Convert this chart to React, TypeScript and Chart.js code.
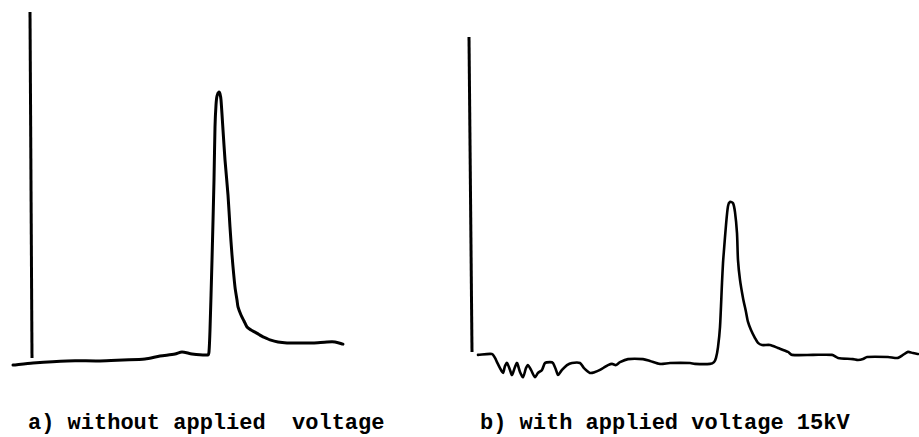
import React, { useEffect, useRef } from "react";
import { Chart, registerables } from "chart.js";

Chart.register(...registerables);

// ---- Panel a) without applied voltage ----
const aMarkerTime = [-0.2, 0.0];
const aMarkerSignal = [117.0, 1.7];
const aTime = [
  -1.9, 0.1, 3.5, 6.8, 9.1, 11.3, 12.8, 14.3, 15.0, 16.0, 17.6, 17.7, 17.8, 18.0, 18.2, 18.3, 18.4, 18.5,
  18.7, 18.8, 18.9, 19.1, 19.3, 19.6, 19.8, 20.0, 20.3, 20.5, 20.6, 20.9, 21.2, 21.5, 21.9, 22.3, 22.6,
  22.8, 23.1, 23.4, 23.8, 24.6, 25.5, 26.8, 28.1, 29.5, 30.3, 31.1,
];
const aSignal = [
  -0.7, 0.0, 0.7, 0.7, 1.0, 1.3, 2.3, 3.0, 3.7, 3.0, 2.7, 3.7, 11.0, 34.3, 61.0, 78.7, 86.0, 89.0,
  90.3, 89.7, 87.7, 77.7, 67.7, 56.0, 45.3, 36.0, 25.3, 21.0, 18.7, 16.0, 14.0, 12.0, 11.0, 10.3, 9.7,
  9.3, 8.7, 8.3, 7.7, 7.0, 6.7, 6.7, 6.7, 7.0, 7.0, 6.3,
];

// ---- Panel b) with applied voltage 15kV ----
const bMarkerTime = [-0.2, 0.1];
const bMarkerSignal = [108.7, 3.7];
const bTime = [
  0.7, 2.1, 2.4, 2.6, 2.9, 3.2, 3.4, 3.6, 3.9, 4.1, 4.4, 4.6, 4.9, 5.2, 5.5, 5.7, 6.0, 6.4, 6.7, 7.1,
  7.4, 7.9, 8.2, 8.5, 8.7, 9.1, 9.6, 10.1, 10.9, 11.3, 11.9, 12.4, 12.9, 13.4, 13.7, 14.1, 14.5, 14.9,
  15.7, 17.2, 17.9, 18.9, 19.9, 21.9, 22.4, 23.9, 24.3, 24.5, 24.7, 24.9, 25.1, 25.2, 25.3, 25.5, 25.7,
  25.9, 26.2, 26.4, 26.6, 26.7, 26.9, 27.2, 27.5, 27.7, 28.0, 28.4, 28.7, 29.1, 29.9, 30.7, 31.7, 32.1,
  34.2, 36.1, 36.7, 38.2, 38.7, 39.2, 39.6, 41.7, 42.7, 43.2, 43.7, 44.2, 44.7,
];
const bSignal = [
  2.7, 3.0, 1.7, 0.3, -1.7, -3.3, -1.0, 0.0, -2.3, -4.0, -1.3, 0.0, -3.0, -4.7, -1.7, -0.7, -2.3, -4.7,
  -3.3, -2.3, 0.0, 0.3, 0.0, -2.3, -4.0, -2.3, -0.7, 0.0, 0.0, -1.7, -3.3, -3.0, -2.3, -1.3, -0.7, -0.3,
  -0.7, 0.3, 1.3, 1.3, 0.7, -0.3, 0.0, 0.0, -0.3, -0.3, 0.3, 1.7, 5.3, 12.0, 26.7, 33.3, 37.7, 46.0,
  52.3, 53.7, 53.3, 50.3, 43.3, 34.3, 27.7, 21.7, 17.0, 13.7, 11.0, 8.3, 6.7, 6.0, 6.0, 5.0, 3.7, 2.7,
  2.7, 2.7, 1.7, 1.3, 1.0, 1.3, 2.0, 2.0, 1.7, 2.7, 3.7, 3.3, 3.0,
];

const captionA = "a) without applied  voltage";
const captionB = "b) with applied voltage 15kV";

const pts = (xs: number[], ys: number[]) => xs.map((x, i) => ({ x, y: ys[i] }));

type PanelProps = {
  left: number;
  width: number;
  height: number;
  xMin: number;
  xMax: number;
  markerT: number[];
  markerS: number[];
  t: number[];
  s: number[];
  lw: number;
};

function Panel(p: PanelProps) {
  const ref = useRef<HTMLCanvasElement | null>(null);
  useEffect(() => {
    if (!ref.current) return;
    const chart = new Chart(ref.current, {
      type: "line",
      data: {
        datasets: [
          {
            data: pts(p.markerT, p.markerS),
            borderColor: "#000",
            borderWidth: 3,
            pointRadius: 0,
            tension: 0,
          },
          {
            data: pts(p.t, p.s),
            borderColor: "#000",
            borderWidth: p.lw,
            pointRadius: 0,
            tension: 0.25,
            borderJoinStyle: "round",
            borderCapStyle: "round",
          },
        ],
      },
      options: {
        animation: false,
        responsive: false,
        events: [],
        layout: { padding: 0 },
        plugins: { legend: { display: false }, tooltip: { enabled: false }, title: { display: false } },
        scales: {
          x: { type: "linear", min: p.xMin, max: p.xMax, display: false },
          y: { type: "linear", min: -9, max: 121, display: false },
        },
      },
    });
    return () => chart.destroy();
  }, []);
  return (
    <canvas
      ref={ref}
      width={p.width}
      height={p.height}
      style={{ position: "absolute", left: p.left, top: 0, width: p.width, height: p.height }}
    />
  );
}

const captionStyle: React.CSSProperties = {
  position: "absolute",
  top: 413,
  fontFamily: "'Liberation Mono', 'DejaVu Sans Mono', monospace",
  fontSize: 22,
  lineHeight: "22px",
  fontWeight: "bold",
  whiteSpace: "pre",
  color: "#000",
  letterSpacing: 0,
};

export default function App() {
  return (
    <div
      style={{
        position: "fixed",
        left: 0,
        top: 0,
        width: 919,
        height: 437,
        background: "#fff",
        overflow: "hidden",
      }}
    >
      <Panel left={0} width={455} height={390} xMin={-3.2} xMax={42.3} markerT={aMarkerTime} markerS={aMarkerSignal} t={aTime} s={aSignal} lw={3} />
      <Panel left={455} width={464} height={390} xMin={-1.6} xMax={44.8} markerT={bMarkerTime} markerS={bMarkerSignal} t={bTime} s={bSignal} lw={2.6} />
      <div style={{ ...captionStyle, left: 28 }}>{captionA}</div>
      <div style={{ ...captionStyle, left: 480 }}>{captionB}</div>
    </div>
  );
}
